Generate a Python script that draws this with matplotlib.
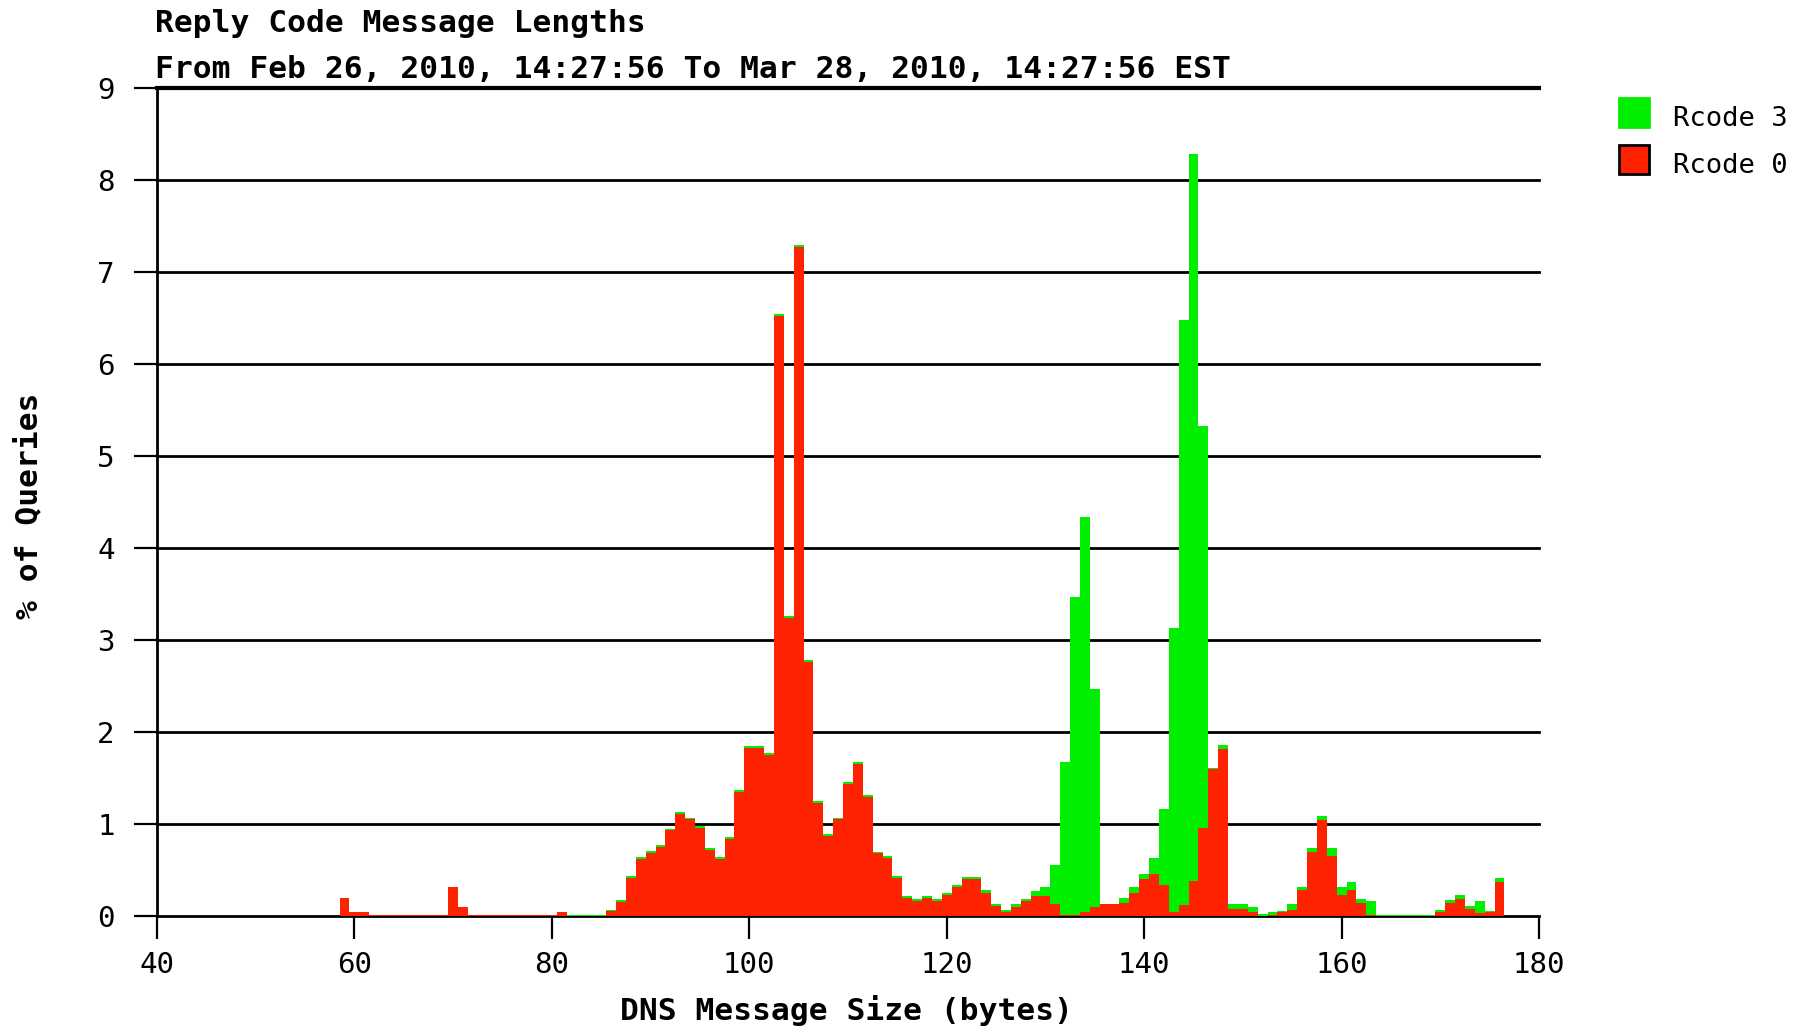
"""Reply code message length histogram (stacked Rcode 0 / Rcode 3)."""

import matplotlib
matplotlib.use("Agg")
import matplotlib.pyplot as plt
from matplotlib.patches import Rectangle

plt.rcParams["font.family"] = ["DejaVu Sans Mono"]

# message sizes in bytes, one bar per byte
sizes = list(range(59, 177))

# % of queries with Rcode 0 (red, bottom of stack)
rcode0 = [
    0.20, 0.04, 0.04, 0.015, 0.015, 0.015, 0.015, 0.015, 0.015, 0.015, 0.015,  # 59-69
    0.31, 0.10, 0.015, 0.015, 0.015, 0.015, 0.015, 0.015, 0.015, 0.015, 0.015, # 70-80
    0.04, 0.0, 0.0, 0.0, 0.0, 0.05, 0.15, 0.41, 0.62, 0.69,                   # 81-90
    0.75, 0.93, 1.11, 1.05, 0.96, 0.72, 0.62, 0.84, 1.35, 1.83,               # 91-100
    1.83, 1.75, 6.52, 3.24, 7.27, 2.76, 1.23, 0.87, 1.05, 1.44,               # 101-110
    1.65, 1.29, 0.68, 0.63, 0.41, 0.20, 0.16, 0.20, 0.16, 0.23,               # 111-120
    0.31, 0.40, 0.40, 0.25, 0.11, 0.04, 0.10, 0.16, 0.22, 0.22,               # 121-130
    0.13, 0.01, 0.01, 0.04, 0.10, 0.13, 0.13, 0.14, 0.25, 0.40,               # 131-140
    0.46, 0.34, 0.04, 0.12, 0.38, 0.96, 1.60, 1.81, 0.08, 0.08,               # 141-150
    0.04, 0.0, 0.01, 0.04, 0.07, 0.28, 0.70, 1.04, 0.65, 0.23,                # 151-160
    0.28, 0.14, 0.01, 0.0, 0.0, 0.0, 0.0, 0.0, 0.0, 0.04,                     # 161-170
    0.14, 0.19, 0.08, 0.03, 0.04, 0.37,                                       # 171-176
]

# % of queries with Rcode 3 (green, stacked on top)
rcode3 = [
    0.0, 0.0, 0.0, 0.0, 0.0, 0.0, 0.0, 0.0, 0.0, 0.0, 0.0,                    # 59-69
    0.0, 0.0, 0.0, 0.0, 0.0, 0.0, 0.0, 0.0, 0.0, 0.0, 0.0,                    # 70-80
    0.0, 0.015, 0.015, 0.015, 0.015, 0.02, 0.02, 0.02, 0.02, 0.02,            # 81-90
    0.02, 0.02, 0.02, 0.02, 0.02, 0.02, 0.02, 0.02, 0.02, 0.02,               # 91-100
    0.02, 0.02, 0.02, 0.02, 0.02, 0.02, 0.02, 0.02, 0.02, 0.02,               # 101-110
    0.02, 0.02, 0.02, 0.02, 0.02, 0.02, 0.03, 0.02, 0.03, 0.02,               # 111-120
    0.03, 0.02, 0.02, 0.03, 0.02, 0.025, 0.03, 0.03, 0.05, 0.10,              # 121-130
    0.42, 1.66, 3.46, 4.30, 2.37, 0.0, 0.0, 0.06, 0.07, 0.06,                 # 131-140
    0.17, 0.82, 3.09, 6.36, 7.90, 4.37, 0.01, 0.05, 0.05, 0.05,               # 141-150
    0.06, 0.02, 0.03, 0.01, 0.06, 0.04, 0.04, 0.05, 0.09, 0.09,               # 151-160
    0.09, 0.05, 0.15, 0.01, 0.01, 0.01, 0.01, 0.01, 0.01, 0.03,               # 161-170
    0.03, 0.04, 0.03, 0.13, 0.01, 0.04,                                       # 171-176
]

x_ticks = [40, 60, 80, 100, 120, 140, 160, 180]
y_ticks = list(range(0, 10))

RED = "#ff2200"
GREEN = "#00ef00"
W, H = 1802, 1029

fig = plt.figure(figsize=(W / 100, H / 100), dpi=100)
ax = fig.add_axes([157 / W, 1 - 916 / H, (1539 - 157) / W, (916 - 88) / H])

# horizontal grid lines behind the bars
for y in y_ticks[1:]:
    ax.axhline(y, color="black", lw=3.0 if y == 9 else 2.0, zorder=1, clip_on=False)

ax.bar(sizes, rcode0, width=1.0, color=RED, linewidth=0, antialiased=False, zorder=2)
ax.bar(sizes, rcode3, width=1.0, bottom=rcode0, color=GREEN, linewidth=0,
       antialiased=False, zorder=2)

ax.set_xlim(40, 180)
ax.set_ylim(0, 9)
ax.set_xticks(x_ticks)
ax.set_yticks(y_ticks)

for side in ("top", "right"):
    ax.spines[side].set_visible(False)
ax.spines["left"].set_linewidth(2)
ax.spines["bottom"].set_linewidth(2)
ax.spines["bottom"].set_zorder(1)

ax.tick_params(axis="both", direction="out", length=16.5, width=1.6,
               colors="black", labelsize=21)
ax.tick_params(axis="x", pad=9)
ax.tick_params(axis="y", pad=14)

# titles
fig.text(155 / W, 1 - 24 / H, "Reply Code Message Lengths", fontsize=22.5,
         fontweight="bold", ha="left", va="center")
fig.text(155 / W, 1 - 70 / H,
         "From Feb 26, 2010, 14:27:56 To Mar 28, 2010, 14:27:56 EST",
         fontsize=22.5, fontweight="bold", ha="left", va="center")

fig.text(847 / W, 1 - 1011 / H, "DNS Message Size (bytes)", fontsize=22.5,
         fontweight="bold", ha="center", va="center")
fig.text(29 / W, 1 - 506 / H, "% of Queries", fontsize=22.5,
         fontweight="bold", ha="center", va="center", rotation=90)

# legend drawn by hand to match the boxed swatches
legend_items = [("Rcode 3", GREEN, GREEN, 98), ("Rcode 0", RED, "black", 145)]
for label, face, edge, top in legend_items:
    fig.patches.append(Rectangle((1619 / W, 1 - (top + 29) / H), 30 / W, 29 / H,
                                 transform=fig.transFigure, facecolor=face,
                                 edgecolor=edge, linewidth=2))
    fig.text(1673 / W, 1 - (top + 21) / H, label, fontsize=19.5,
             ha="left", va="center")

fig.savefig("out.png", dpi=100)
